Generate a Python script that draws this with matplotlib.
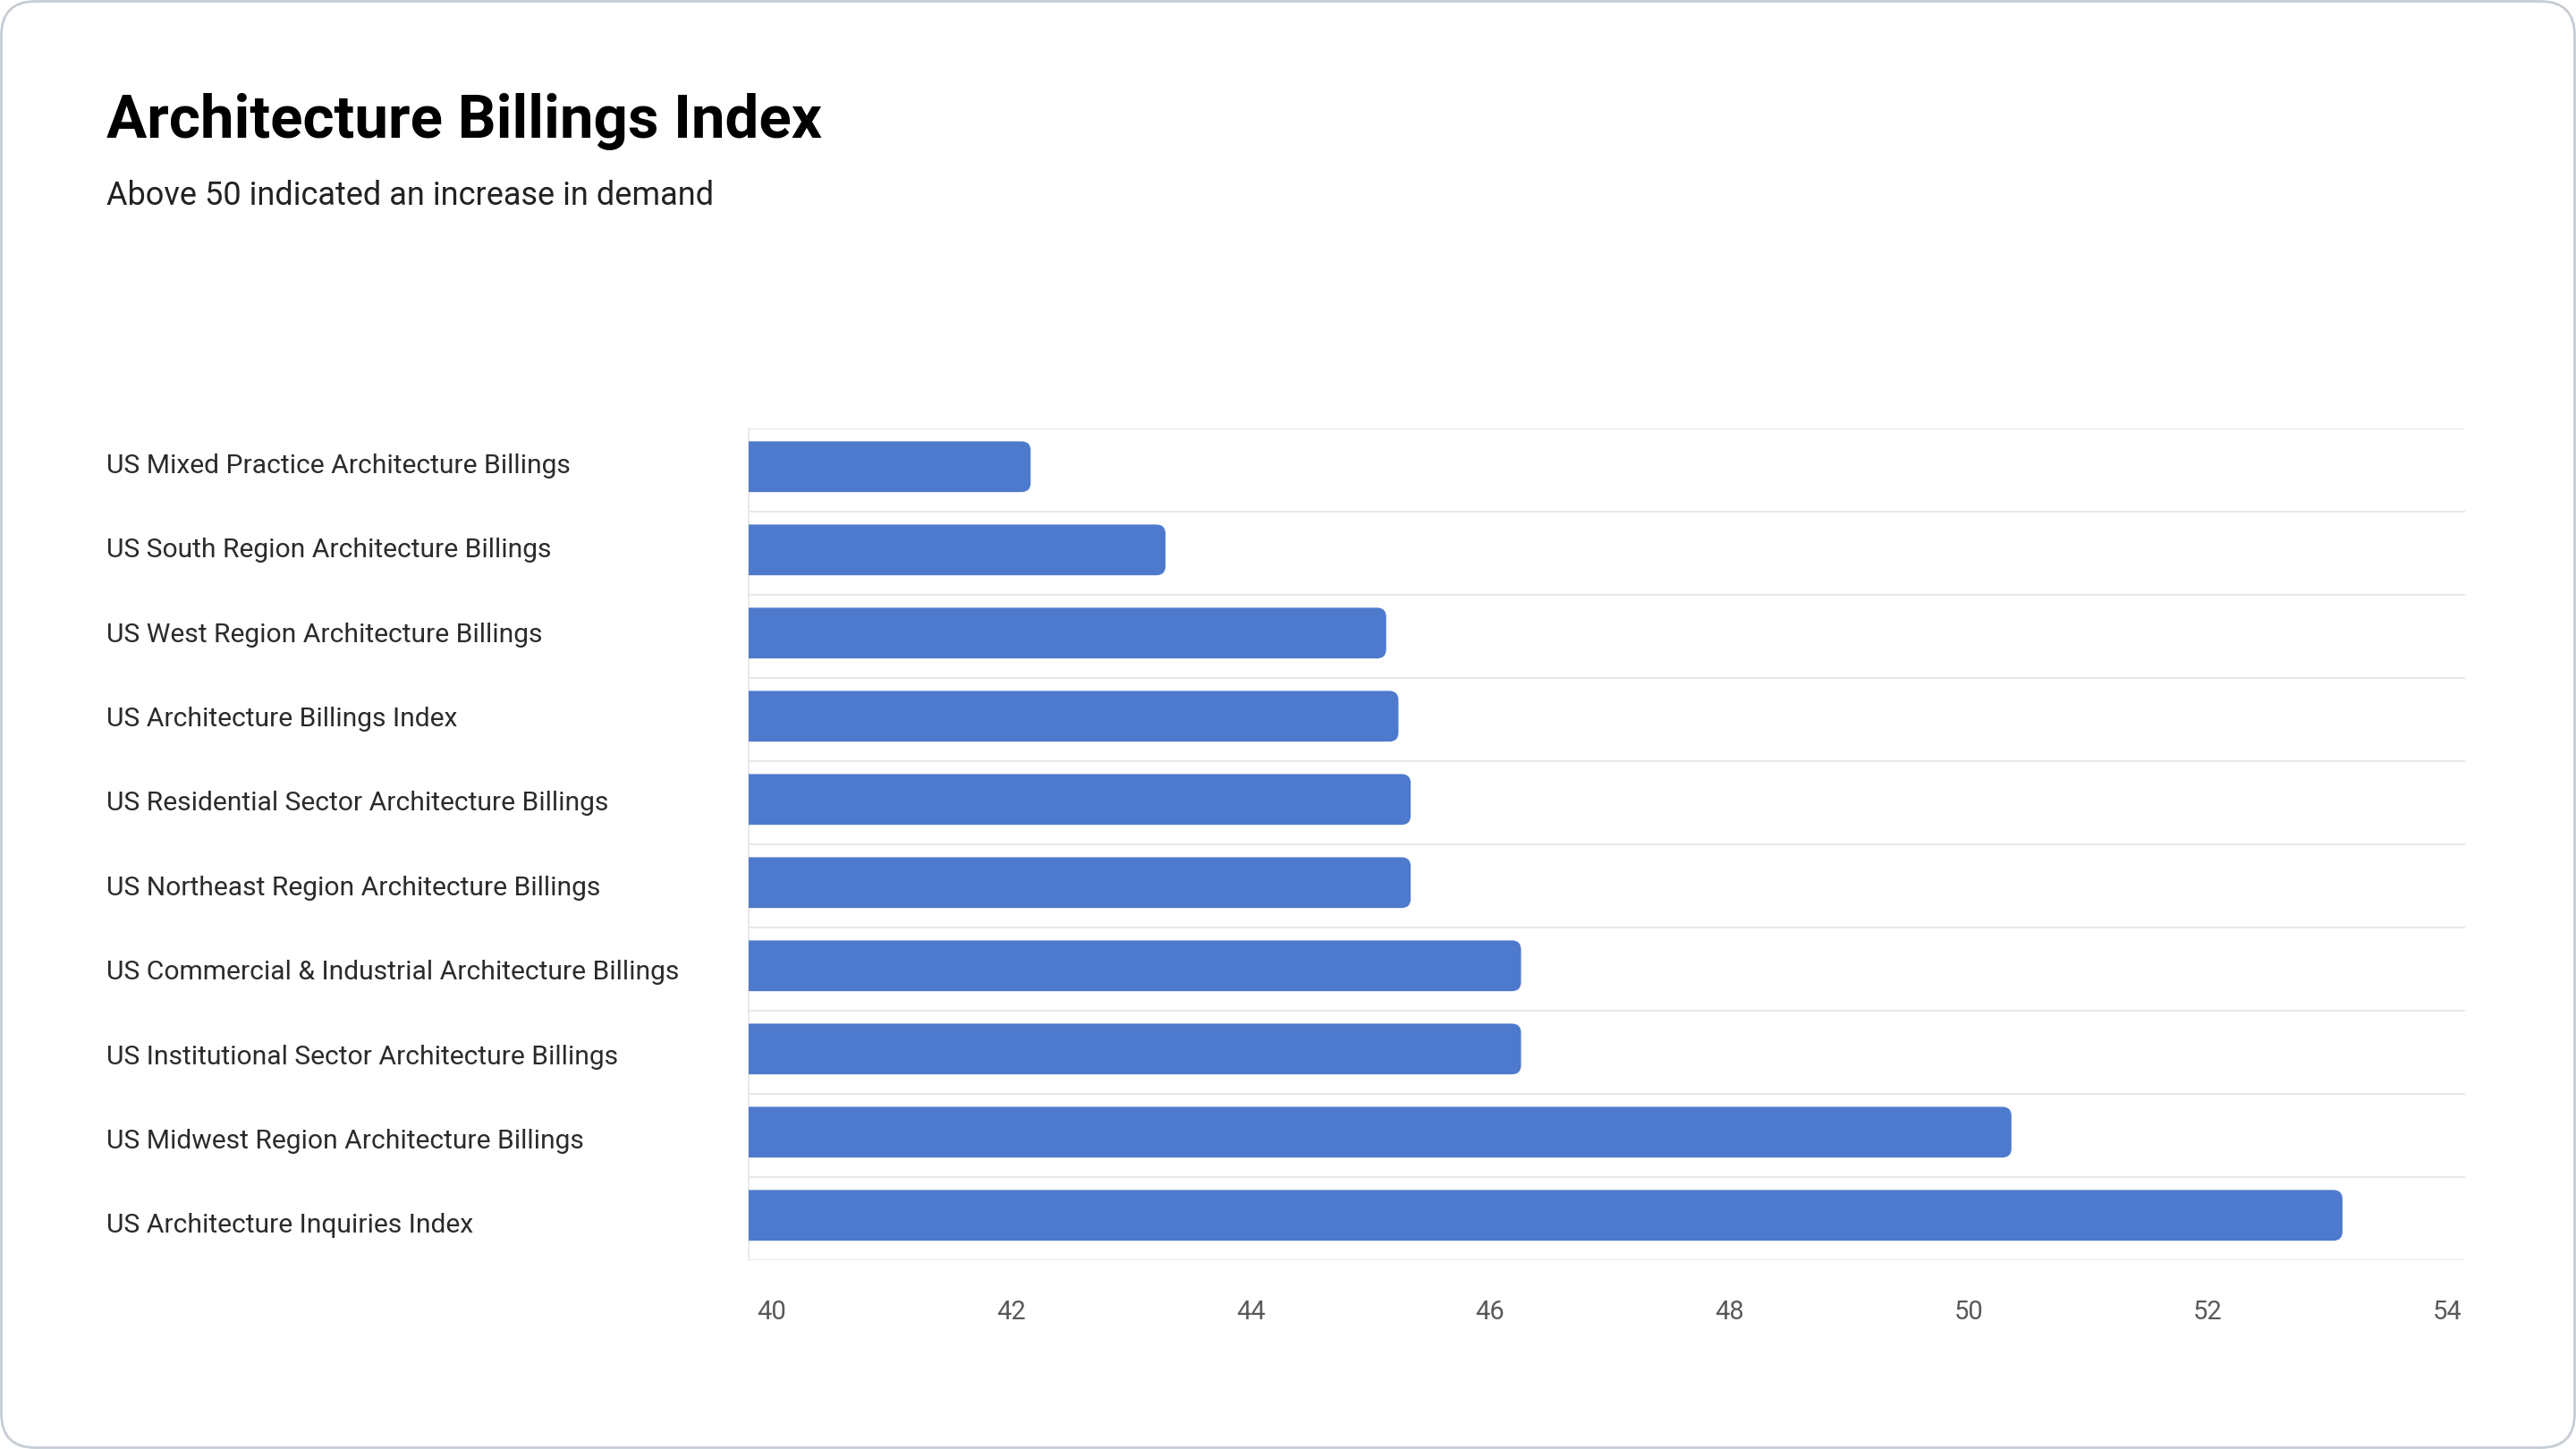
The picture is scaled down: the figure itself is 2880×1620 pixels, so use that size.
import matplotlib.pyplot as plt
from matplotlib.patches import FancyBboxPatch
from matplotlib.transforms import blended_transform_factory, ScaledTranslation
import numpy as np

categories = [
    'US Mixed Practice Architecture Billings',
    'US South Region Architecture Billings',
    'US West Region Architecture Billings',
    'US Architecture Billings Index',
    'US Residential Sector Architecture Billings',
    'US Northeast Region Architecture Billings',
    'US Commercial & Industrial Architecture Billings',
    'US Institutional Sector Architecture Billings',
    'US Midwest Region Architecture Billings',
    'US Architecture Inquiries Index',
]
values = [42.3, 43.4, 45.2, 45.3, 45.4, 45.4, 46.3, 46.3, 50.3, 53.0]
x_ticks = [40, 42, 44, 46, 48, 50, 52, 54]

plt.rcParams['font.family'] = ['Roboto', 'DejaVu Sans']

W, H, DPI = 2880, 1620, 200
fig = plt.figure(figsize=(W / DPI, H / DPI), dpi=DPI)
fig.patch.set_facecolor('white')

# rounded card border
border = FancyBboxPatch((1.5 / W, 1.5 / H), 1 - 3 / W, 1 - 3 / H,
                        boxstyle='round,pad=0,rounding_size=%f' % (38 / W),
                        mutation_aspect=W / H, transform=fig.transFigure,
                        facecolor='none', edgecolor='#c6cdd4', linewidth=1.0,
                        zorder=-1)
fig.patches.append(border)

ax = fig.add_axes([837 / W, 1 - 1409 / H, (2756 - 837) / W, (1409 - 479) / H])
ax.set_facecolor('none')

y = np.arange(len(categories))
base = x_ticks[0]
bars = ax.barh(y - 0.04, [v - base for v in values], left=base, height=0.61,
               color='#4e7acd', alpha=0)

# replace bars with right-rounded versions (left end clipped by axes)
for b in bars:
    bx, by, bw, bh = b.get_x(), b.get_y(), b.get_width(), b.get_height()
    r = 0.075
    p = FancyBboxPatch((bx - 0.3, by), bw + 0.3, bh,
                       boxstyle='round,pad=0,rounding_size=%f' % r,
                       mutation_aspect=1.45, facecolor='#4e7acd',
                       edgecolor='none', zorder=3)
    ax.add_patch(p)
    p.set_clip_path(ax.patch)

ax.set_xlim(x_ticks[0], x_ticks[-1])
ax.set_ylim(len(categories) - 0.5, -0.5)

# row separators
ax.hlines(np.arange(len(categories) + 1) - 0.5, x_ticks[0], x_ticks[-1],
          colors='#e3e3e3', linewidth=0.6, zorder=1)

for s in ['top', 'right', 'bottom']:
    ax.spines[s].set_visible(False)
ax.spines['left'].set_color('#e6e6e6')
ax.spines['left'].set_linewidth(0.6)

ax.set_yticks([])
ax.set_xticks(x_ticks)
ax.set_xticklabels([str(t) for t in x_ticks])
ax.tick_params(axis='x', length=0, pad=16, labelsize=10.5, labelcolor='#595959')
n = len(x_ticks)
for i, lab in enumerate(ax.get_xticklabels()):
    off = (26 - 46 * i / (n - 1)) / DPI
    lab.set_transform(lab.get_transform() + ScaledTranslation(off, 0, fig.dpi_scale_trans))

trans = blended_transform_factory(fig.transFigure, ax.transData)
for yi, c in zip(y, categories):
    ax.text(119 / W, yi - 0.05 + 0.015 * yi, c, transform=trans, ha='left',
            va='center', fontsize=10.8, color='#2b2b2b')

fig.text(119 / W, 1 - 154 / H, 'Architecture Billings Index', ha='left',
         va='baseline', fontsize=24.2, fontweight='bold', color='#000000')
fig.text(119 / W, 1 - 229 / H, 'Above 50 indicated an increase in demand',
         ha='left', va='baseline', fontsize=13, color='#222222')

fig.savefig('out.png', dpi=DPI, facecolor='white')
